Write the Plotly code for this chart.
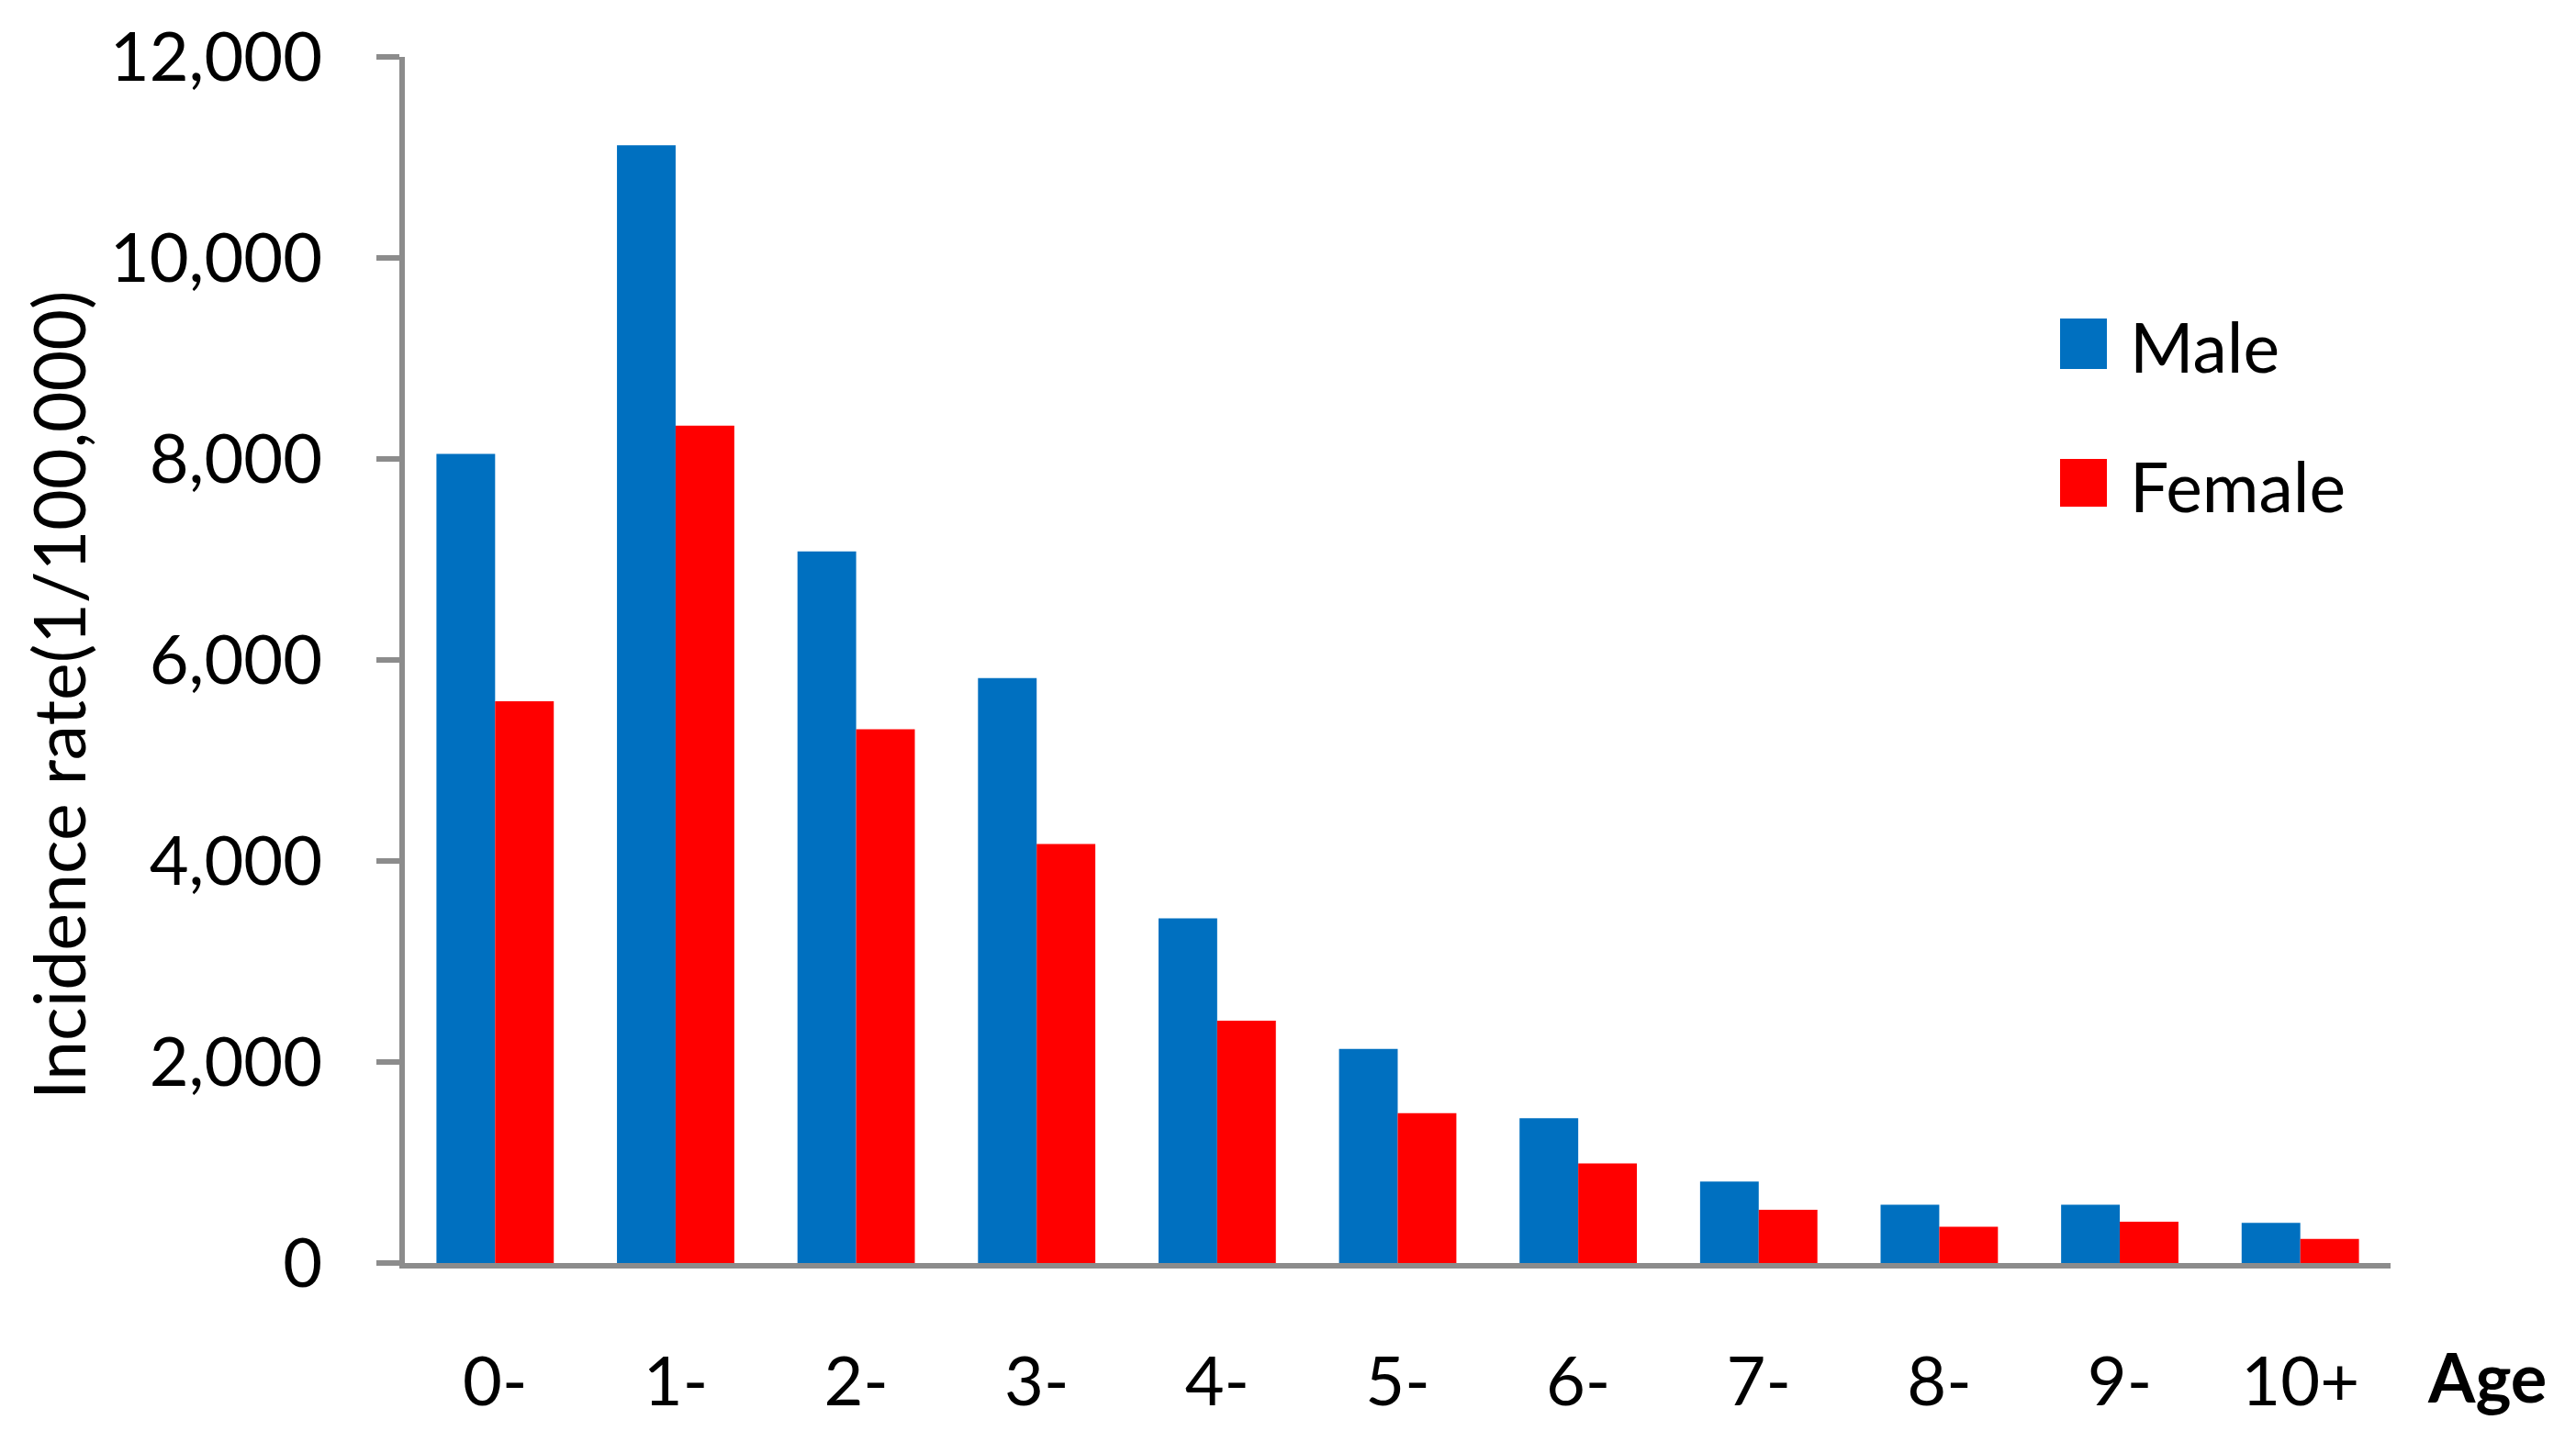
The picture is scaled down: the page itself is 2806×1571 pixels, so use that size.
import plotly.graph_objects as go

categories = ["0-", "1-", "2-", "3-", "4-", "5-", "6-", "7-", "8-", "9-", "10+"]
male = [8050, 11120, 7080, 5820, 3430, 2130, 1440, 810, 580, 580, 400]
female = [5590, 8330, 5310, 4170, 2410, 1490, 990, 530, 360, 410, 240]
y_ticks = [0, 2000, 4000, 6000, 8000, 10000, 12000]

FONT = "Lato"
AXIS_GRAY = "#8c8c8c"

W, H = 2806, 1571
L, R, T, B = 441, 202, 62, 195
plot_w = W - L - R
plot_h = H - T - B

def px(x):
    return (x - L) / plot_w

def py(y):
    return (H - B - y) / plot_h

fig = go.Figure()
fig.add_trace(go.Bar(x=categories, y=male, name="Male", marker_color="#0070C0", marker_line_width=0))
fig.add_trace(go.Bar(x=categories, y=female, name="Female", marker_color="#FF0000", marker_line_width=0))

fig.update_layout(
    width=W, height=H,
    margin=dict(l=L, r=R, t=T, b=B, pad=0, autoexpand=False),
    paper_bgcolor="white", plot_bgcolor="white",
    barmode="group", bargap=0.35, bargroupgap=0,
    showlegend=False,
    font=dict(family=FONT, size=74, color="black"),
)
fig.update_yaxes(
    range=[0, 12000], tickvals=y_ticks, tickformat=",",
    automargin=False,
    showgrid=False, zeroline=False,
    showline=True, linecolor=AXIS_GRAY, linewidth=6,
    ticks="outside", ticklen=25, tickwidth=6, tickcolor=AXIS_GRAY,
    ticklabelstandoff=44,
    tickfont=dict(family=FONT, size=74, color="black"),
)
fig.update_xaxes(
    automargin=False,
    showgrid=False, zeroline=False,
    showline=True, linecolor=AXIS_GRAY, linewidth=6,
    ticks="", ticklabelstandoff=60,
    tickfont=dict(family=FONT, size=74, color="black"),
)

# y-axis title
fig.add_annotation(
    text="Incidence rate(1/100,000)", textangle=-90,
    xref="paper", yref="paper", x=px(63), y=py(757),
    xanchor="center", yanchor="middle", showarrow=False,
    font=dict(family=FONT, size=77, color="black"),
)
# "Age" label
fig.add_annotation(
    text="<b>Age</b>", xref="paper", yref="paper", x=px(2709), y=py(1499),
    xanchor="center", yanchor="middle", showarrow=False,
    font=dict(family=FONT, size=74, color="black"),
)

# manual legend
legend_items = [("Male", "#0070C0", 347, 402), ("Female", "#FF0000", 500, 552)]
for name, color, y0, y1 in legend_items:
    fig.add_shape(type="rect", xref="paper", yref="paper",
                  x0=px(2244), x1=px(2295), y0=py(y1), y1=py(y0),
                  fillcolor=color, line_width=0)
    fig.add_annotation(text=name, xref="paper", yref="paper",
                       x=px(2318), y=py((y0 + y1) / 2 + 3),
                       xanchor="left", yanchor="middle", showarrow=False,
                       font=dict(family=FONT, size=75, color="black"))

fig.write_html(
    "out.html",
    config={"displayModeBar": False},
    post_script="document.body.style.margin='0';document.body.style.padding='0';",
)
